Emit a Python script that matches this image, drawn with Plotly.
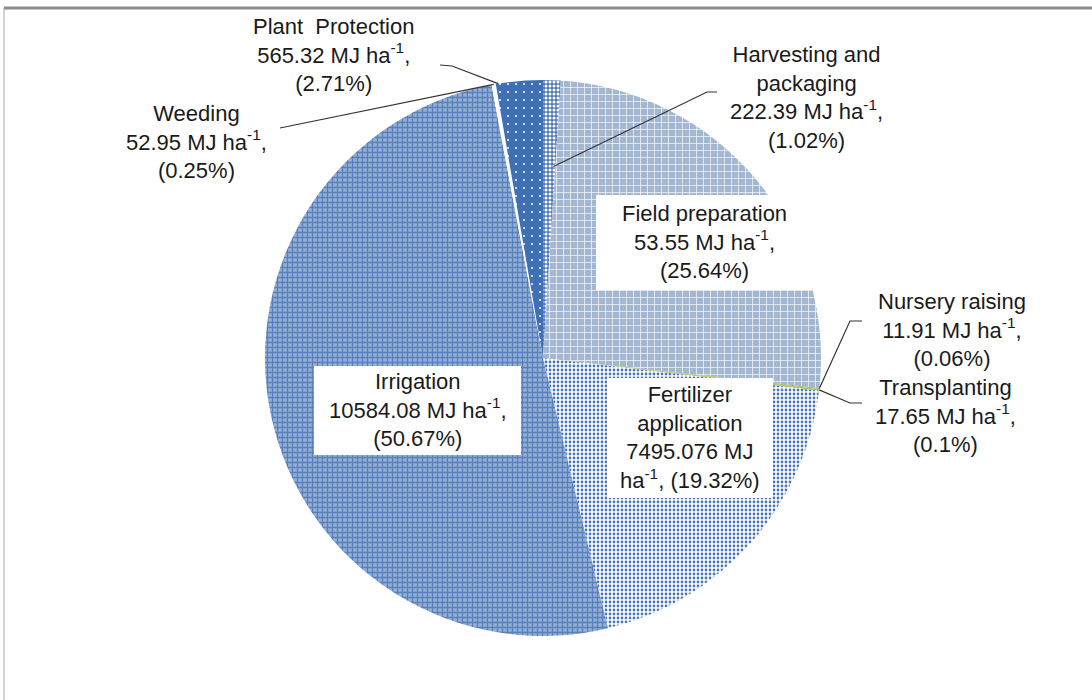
import math
import plotly.graph_objects as go

# Energy input per operation, MJ ha-1, and share of total, %
operations = [
    "Harvesting and<br>packaging",
    "Field preparation",
    "Nursery raising",
    "Transplanting",
    "Fertilizer<br>application",
    "Irrigation",
    "Weeding",
    "Plant\u00a0 Protection",
]
energy = [222.39, 53.55, 11.91, 17.65, 7495.076, 10584.08, 52.95, 565.32]
share = [1.02, 25.64, 0.06, 0.1, 19.32, 50.67, 0.25, 2.71]

# Slice fills: background colour, pattern colour, pattern shape/size/solidity
bg_colors = ["#4f79b8", "#a3b7d1", "#9bbb59", "#b5c06a", "#ffffff", "#93afd6", "#ffffff", "#3f6fb5"]
fg_colors = ["#ffffff", "#ffffff", "#9bbb59", "#b5c06a", "#4a76b4", "#5a80bb", "#ffffff", "#ffffff"]
pat_shapes = [".", "+", "", "", ".", "+", "", "."]
pat_sizes = [4, 7, 6, 6, 4, 5, 6, 8]
pat_solid = [0.45, 0.18, 0.3, 0.3, 0.38, 0.45, 0.3, 0.05]

W, H = 1092, 700
CX, CY, R = 543, 358, 278  # pie centre and radius in px


def px(x, y):
    return x / W, 1 - y / H


def slice_point(i, frac_in_slice=0.5, rfrac=1.0):
    total = sum(share)
    start = sum(share[:i]) / total
    f = start + share[i] / total * frac_in_slice
    th = 2 * math.pi * f
    return CX + R * rfrac * math.sin(th), CY - R * rfrac * math.cos(th)


def label(i, split_value=False):
    val = f"{energy[i]} MJ"
    if split_value:
        return f"{operations[i]}<br>{val}<br>ha<sup>-1</sup>, ({share[i]}%)"
    return f"{operations[i]}<br>{val} ha<sup>-1</sup>,<br>({share[i]}%)"


fig = go.Figure(
    go.Pie(
        values=share,
        labels=[o.replace("<br>", " ") for o in operations],
        sort=False,
        direction="clockwise",
        rotation=0,
        textinfo="none",
        hoverinfo="skip",
        showlegend=False,
        marker=dict(
            colors=bg_colors,
            line=dict(width=0),
            pattern=dict(
                shape=pat_shapes,
                fgcolor=fg_colors,
                bgcolor=bg_colors,
                size=pat_sizes,
                solidity=pat_solid,
                fillmode="replace",
            ),
        ),
        domain=dict(
            x=[(CX - R) / W, (CX + R) / W],
            y=[1 - (CY + R) / H, 1 - (CY - R) / H],
        ),
    )
)

shapes = []
annotations = []
FONT = dict(family="Liberation Sans, Arial, sans-serif", size=22, color="#1a1a1a")


def line_path(points, color="#333333", width=1.2):
    x0, y0 = px(*points[0])
    d = f"M {x0},{y0}"
    for p in points[1:]:
        xx, yy = px(*p)
        d += f" L {xx},{yy}"
    shapes.append(dict(type="path", xref="paper", yref="paper", path=d,
                       line=dict(color=color, width=width)))


def box(x0, y0, x1, y1):
    a, b = px(x0, y0)
    c, d = px(x1, y1)
    shapes.append(dict(type="rect", xref="paper", yref="paper", x0=a, y0=d, x1=c, y1=b,
                       fillcolor="white", line=dict(width=0), layer="above"))


def text(i, x, y, split_value=False):
    xx, yy = px(x, y)
    annotations.append(dict(text=label(i, split_value), x=xx, y=yy, xref="paper", yref="paper",
                            xanchor="center", yanchor="middle", align="center",
                            showarrow=False, font=FONT))


# Frame around the chart area
shapes.append(dict(type="line", xref="paper", yref="paper", x0=px(4, 0)[0], x1=1.01,
                   y0=px(0, 8)[1], y1=px(0, 8)[1], line=dict(color="#8c8c8c", width=3)))
shapes.append(dict(type="line", xref="paper", yref="paper", x0=px(4, 0)[0], x1=px(4, 0)[0],
                   y0=px(0, 8)[1], y1=-0.01, line=dict(color="#a6a6a6", width=1)))

# Labels inside slices, on white boxes
box(596, 195, 812, 290)
text(1, 704, 242)
box(607, 378, 773, 498)
text(4, 690, 438, split_value=True)
box(314, 366, 521, 455)
text(5, 418, 410)

# Outside labels with leader lines
text(7, 333, 55)
line_path([(440, 65), (452, 66), slice_point(7, 0.05)])
text(6, 196, 142)
line_path([(280, 128), slice_point(6, 0.5)])
text(0, 806, 97)
line_path([slice_point(0, 0.85, 0.69), (707, 92), (717, 92)])
text(2, 952, 330)
line_path([slice_point(2, 0.5), (850, 321), (862, 321)])
text(3, 945, 416)
line_path([slice_point(3, 0.5), (850, 403), (862, 403)])

fig.update_layout(
    width=W,
    height=H,
    margin=dict(l=0, r=0, t=0, b=0),
    paper_bgcolor="white",
    plot_bgcolor="white",
    shapes=shapes,
    annotations=annotations,
)

fig.write_html("out.html")
